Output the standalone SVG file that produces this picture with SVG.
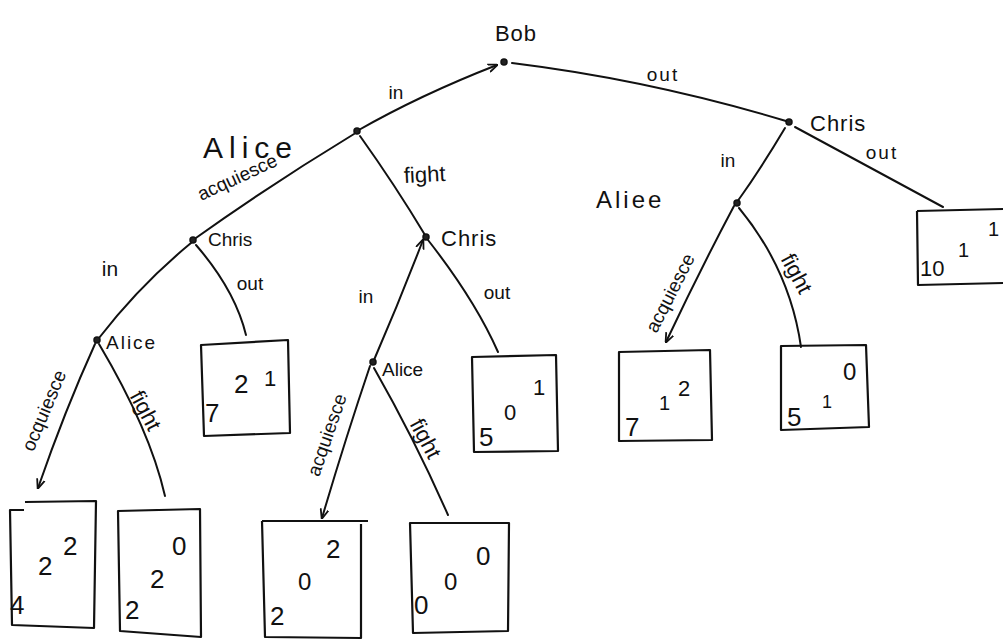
<svg xmlns="http://www.w3.org/2000/svg" width="1008" height="640" viewBox="0 0 1008 640">
  <defs>
    <marker id="arrow" viewBox="0 0 10 10" refX="9" refY="5" markerWidth="5" markerHeight="5" orient="auto-start-reverse">
      <path d="M0,1 L10,5 L0,9" fill="none" stroke="#111" stroke-width="1.8"/>
    </marker>
    <style>
      .edge { fill: none; stroke: #111; stroke-width: 2; stroke-linecap: round; }
      .box { fill: none; stroke: #111; stroke-width: 2.2; stroke-linejoin: round; }
      .dot { fill: #222; stroke: #111; stroke-width: 1.5; }
      .lbl { font-family: "Liberation Sans", "DejaVu Sans", sans-serif; fill: #111; }
      .name { font-size: 22px; letter-spacing: 1px; }
      .big { font-size: 30px; letter-spacing: 6px; }
      .act { font-size: 19px; }
      .num { font-family: "Liberation Sans", "DejaVu Sans", sans-serif; fill: #111; font-size: 26px; }
    </style>
  </defs>
  <rect width="1008" height="640" fill="#fff"/>

  <!-- branches of the game tree -->
  <g id="connectors">
    <path class="edge" d="M357,131 Q420,95 497,65" marker-end="url(#arrow)"/>
    <path class="edge" d="M512,63 Q650,80 786,121"/>
    <path class="edge" d="M795,127 L943,207"/>
    <path class="edge" d="M785,128 Q760,170 737,202"/>
    <path class="edge" d="M354,134 Q270,185 193,240"/>
    <path class="edge" d="M360,136 Q395,185 425,235"/>
    <path class="edge" d="M191,243 Q140,285 99,338"/>
    <path class="edge" d="M196,245 Q235,290 246,335"/>
    <path class="edge" d="M95,344 Q65,410 38,488" marker-end="url(#arrow)"/>
    <path class="edge" d="M99,344 Q150,430 165,496"/>
    <path class="edge" d="M374,360 Q400,300 423,240" marker-end="url(#arrow)"/>
    <path class="edge" d="M428,240 Q475,300 498,352"/>
    <path class="edge" d="M370,366 Q345,440 322,518" marker-end="url(#arrow)"/>
    <path class="edge" d="M374,368 Q415,440 448,515"/>
    <path class="edge" d="M734,206 Q700,270 666,342" marker-end="url(#arrow)"/>
    <path class="edge" d="M739,208 Q790,270 801,347"/>
  </g>

  <!-- Bob, first mover -->
  <g id="node-bob">
    <circle class="dot" cx="504" cy="62" r="3"/>
    <text class="lbl name" x="516" y="41" text-anchor="middle">Bob</text>
    <text class="lbl act" x="396" y="99" text-anchor="middle">in</text>
    <text class="lbl act" x="663" y="81" text-anchor="middle" style="letter-spacing:2px">out</text>
  </g>

  <!-- Alice after Bob plays in -->
  <g id="node-alice-1">
    <circle class="dot" cx="357" cy="131" r="3"/>
    <text class="lbl big" x="203" y="158">Alice</text>
    <text class="lbl act" transform="translate(240,183) rotate(-25)" text-anchor="middle">acquiesce</text>
    <text class="lbl act" transform="translate(425,182) rotate(-3)" text-anchor="middle" style="font-size:22px">fight</text>
  </g>

  <!-- Chris after Bob plays out -->
  <g id="node-chris-r">
    <circle class="dot" cx="789" cy="122" r="3"/>
    <text class="lbl name" x="810" y="131">Chris</text>
    <text class="lbl act" x="728" y="167" text-anchor="middle">in</text>
    <text class="lbl act" x="882" y="159" text-anchor="middle" style="letter-spacing:2px">out</text>
  </g>

  <!-- Alice after Chris plays in (right branch) -->
  <g id="node-alice-r">
    <circle class="dot" cx="737" cy="203" r="3"/>
    <text class="lbl name" x="596" y="208" style="font-size:24px;letter-spacing:3px">Aliee</text>
    <text class="lbl act" transform="translate(676,296) rotate(-63)" text-anchor="middle">acquiesce</text>
    <text class="lbl act" transform="translate(790,277) rotate(62)" text-anchor="middle" style="font-size:22px">fight</text>
  </g>

  <!-- Chris after acquiesce -->
  <g id="node-chris-l">
    <circle class="dot" cx="193" cy="240" r="3"/>
    <text class="lbl act" x="208" y="246">Chris</text>
    <text class="lbl act" x="110" y="276" text-anchor="middle" style="font-size:21px">in</text>
    <text class="lbl act" x="250" y="290" text-anchor="middle">out</text>
  </g>

  <!-- Chris after fight -->
  <g id="node-chris-m">
    <circle class="dot" cx="426" cy="237" r="3"/>
    <text class="lbl name" x="441" y="246">Chris</text>
    <text class="lbl act" x="366" y="303" text-anchor="middle">in</text>
    <text class="lbl act" x="497" y="299" text-anchor="middle">out</text>
  </g>

  <!-- Alice, lower left -->
  <g id="node-alice-ll">
    <circle class="dot" cx="97" cy="340" r="3"/>
    <text class="lbl act" x="106" y="349" style="letter-spacing:2px">Alice</text>
    <text class="lbl act" transform="translate(50,413) rotate(-67)" text-anchor="middle">ocquiesce</text>
    <text class="lbl act" transform="translate(139,414) rotate(62)" text-anchor="middle" style="font-size:22px">fight</text>
  </g>

  <!-- Alice, lower middle -->
  <g id="node-alice-lm">
    <circle class="dot" cx="373" cy="362" r="3"/>
    <text class="lbl act" x="382" y="376">Alice</text>
    <text class="lbl act" transform="translate(333,437) rotate(-71)" text-anchor="middle">acquiesce</text>
    <text class="lbl act" transform="translate(419,442) rotate(62)" text-anchor="middle" style="font-size:22px">fight</text>
  </g>

  <!-- payoff boxes -->
  <g id="payoff-10-1-1">
    <path class="box" d="M917,211 L1003,209 M917,211 L918,285 L1003,283"/>
    <text class="num" x="920" y="276" style="font-size:22px">10</text>
    <text class="num" x="958" y="257" style="font-size:20px">1</text>
    <text class="num" x="988" y="236" style="font-size:20px">1</text>
  </g>

  <g id="payoff-7-2-1">
    <path class="box" d="M201,345 L288,340 L290,433 L204,436 Z"/>
    <text class="num" x="205" y="422">7</text>
    <text class="num" x="234" y="393">2</text>
    <text class="num" x="264" y="386" style="font-size:22px">1</text>
  </g>

  <g id="payoff-5-0-1">
    <path class="box" d="M472,357 L556,355 L558,451 L474,452 Z"/>
    <text class="num" x="479" y="446">5</text>
    <text class="num" x="504" y="420" style="font-size:22px">0</text>
    <text class="num" x="533" y="395" style="font-size:22px">1</text>
  </g>

  <g id="payoff-7-1-2">
    <path class="box" d="M619,352 L710,350 L712,440 L619,441 Z"/>
    <text class="num" x="625" y="436">7</text>
    <text class="num" x="659" y="410" style="font-size:20px">1</text>
    <text class="num" x="678" y="396" style="font-size:22px">2</text>
  </g>

  <g id="payoff-5-1-0">
    <path class="box" d="M781,346 L866,345 L869,427 L781,430 Z"/>
    <text class="num" x="787" y="426">5</text>
    <text class="num" x="822" y="408" style="font-size:18px">1</text>
    <text class="num" x="843" y="380" style="font-size:24px">0</text>
  </g>

  <g id="payoff-4-2-2">
    <path class="box" d="M25,502 L96,501 L94,628 L12,625 L10,510 L24,510"/>
    <text class="num" x="10" y="614">4</text>
    <text class="num" x="38" y="575">2</text>
    <text class="num" x="63" y="555">2</text>
  </g>

  <g id="payoff-2-2-0">
    <path class="box" d="M118,511 L200,509 L201,637 L120,631 Z"/>
    <text class="num" x="125" y="619">2</text>
    <text class="num" x="150" y="588">2</text>
    <text class="num" x="172" y="555">0</text>
  </g>

  <g id="payoff-2-0-2">
    <path class="box" d="M262,521 L368,521 M262,521 L265,637 L361,638 L361,524"/>
    <text class="num" x="270" y="625">2</text>
    <text class="num" x="298" y="590" style="font-size:24px">0</text>
    <text class="num" x="326" y="558">2</text>
  </g>

  <g id="payoff-0-0-0">
    <path class="box" d="M410,523 L509,523 L508,631 L413,633 Z"/>
    <text class="num" x="414" y="614">0</text>
    <text class="num" x="444" y="590" style="font-size:24px">0</text>
    <text class="num" x="476" y="565">0</text>
  </g>
</svg>
